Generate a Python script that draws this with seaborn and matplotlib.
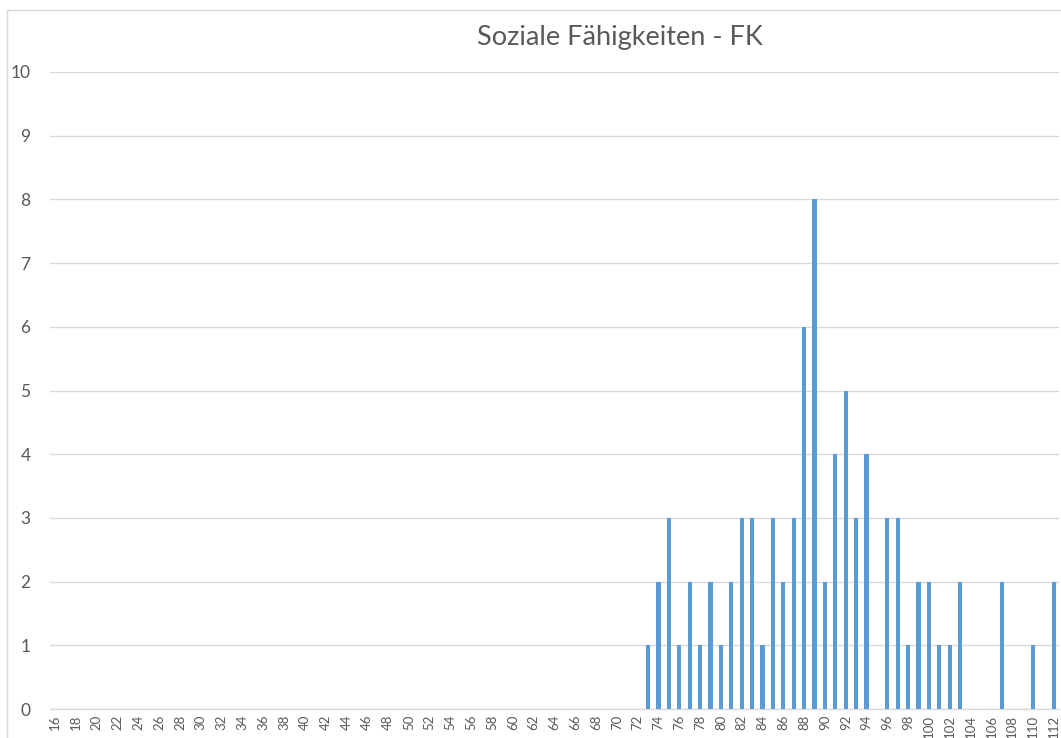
import matplotlib
matplotlib.use("Agg")
import matplotlib.pyplot as plt
import matplotlib.patches as mpatches
import pandas as pd
import seaborn as sns

# Categories on the x axis (every score from 16 to 112)
all_scores = list(range(16, 113))

# Scores that actually occur and how often
scores = [73, 74, 75, 76, 77, 78, 79, 80, 81, 82, 83, 84, 85, 86, 87, 88, 89,
          90, 91, 92, 93, 94, 96, 97, 98, 99, 100, 101, 102, 103, 107, 110, 112]
counts = [1, 2, 3, 1, 2, 1, 2, 1, 2, 3, 3, 1, 3, 2, 3, 6, 8,
          2, 4, 5, 3, 4, 3, 3, 1, 2, 2, 1, 1, 2, 2, 1, 2]

y_ticks = list(range(0, 11))
title = "Soziale Fähigkeiten - FK"

# Build full table (missing scores -> 0)
df = pd.DataFrame({"score": scores, "count": counts}).set_index("score")
df = df.reindex(all_scores, fill_value=0).reset_index()
df["label"] = df["score"].astype(str)

sns.set_style("white")
plt.rcParams["font.family"] = ["Lato", "DejaVu Sans"]

fig = plt.figure(figsize=(10.61, 7.38), dpi=100)
ax = fig.add_axes([50 / 1061, 29 / 738, 1009 / 1061, 637 / 738])

sns.barplot(data=df, x="label", y="count", order=df["label"].tolist(),
            color="#5B9BD5", saturation=1, width=0.4, linewidth=0,
            ax=ax, zorder=3)

ax.set_ylim(0, 10)
ax.set_xlim(-0.5, len(all_scores) - 0.5)
ax.set_yticks(y_ticks)
ax.set_yticklabels([str(v) for v in y_ticks], fontsize=12.5, color="#595959")
pos = list(range(0, len(all_scores), 2))
ax.set_xticks(pos)
ax.set_xticklabels([str(all_scores[i]) for i in pos], rotation=90,
                   fontsize=9.5, color="#595959")
ax.tick_params(axis="y", length=0, pad=14)
ax.tick_params(axis="x", length=0, pad=4)
ax.set_xlabel("")
ax.set_ylabel("")

ax.grid(axis="y", color="#D9D9D9", lw=1, zorder=0)
ax.set_axisbelow(True)
for s in ["top", "right", "left"]:
    ax.spines[s].set_visible(False)
ax.spines["bottom"].set_color("#D9D9D9")
ax.spines["bottom"].set_linewidth(1)

fig.text(620 / 1061, 1 - 37 / 738, title, ha="center", va="center",
         fontsize=19.5, color="#595959")

# chart-area border (cropped on right and bottom)
border = mpatches.Rectangle((7 / 1061, -0.1), 1.2, (738 - 10) / 738 + 0.1,
                            transform=fig.transFigure, fill=False,
                            edgecolor="#D9D9D9", lw=1, clip_on=False)
fig.patches.append(border)

fig.savefig("out.png", dpi=100)
